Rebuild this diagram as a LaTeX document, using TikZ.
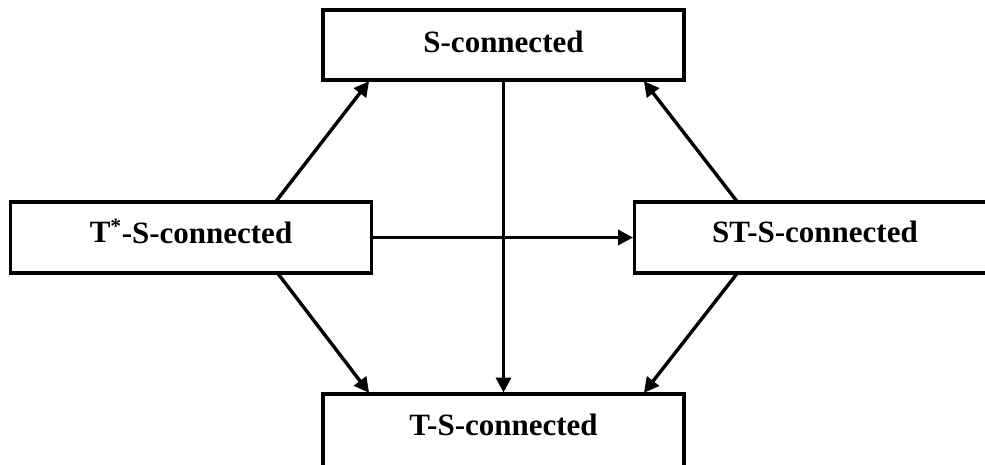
\documentclass[tikz,border=0pt]{standalone}
\usepackage{fontspec}
\setmainfont{Liberation Serif}
\usetikzlibrary{arrows.meta}
\begin{document}
\begin{tikzpicture}[x=1pt,y=1pt,
  box/.style={draw, line width=3.3pt, rectangle, minimum width=361pt, minimum height=71pt,
    inner sep=0pt, outer sep=0pt, font=\fontsize{31}{37}\selectfont\bfseries,
    text height=11pt, text depth=0pt},
  arr/.style={line width=3.4pt, -{Triangle[length=15pt,width=15pt]}, shorten >=1.5pt}]
\useasboundingbox (0,0) rectangle (985,464);
\clip (0,0) rectangle (985,464);
\node[box, minimum height=70pt, text height=15pt] (S) at (503.5,419) {S-connected};
\node[box] (Tstar) at (191,226.5) {T\textsuperscript{*}-S-connected};
\node[box] (ST) at (815,226.5) {ST-S-connected};
\node[box, minimum height=73pt, text height=10pt] (TS) at (503.5,33.5) {T-S-connected};
\draw[arr] (S.south) -- (TS.north);
\draw[arr] (Tstar.east) -- (ST.west);
\draw[arr] ([xshift=265pt]Tstar.north west) -- ([xshift=47pt]S.south west);
\draw[arr] ([xshift=103pt]ST.north west) -- ([xshift=-41pt]S.south east);
\draw[arr] ([xshift=267pt]Tstar.south west) -- ([xshift=47pt]TS.north west);
\draw[arr] ([xshift=103pt]ST.south west) -- ([xshift=-41pt]TS.north east);
\end{tikzpicture}
\end{document}
